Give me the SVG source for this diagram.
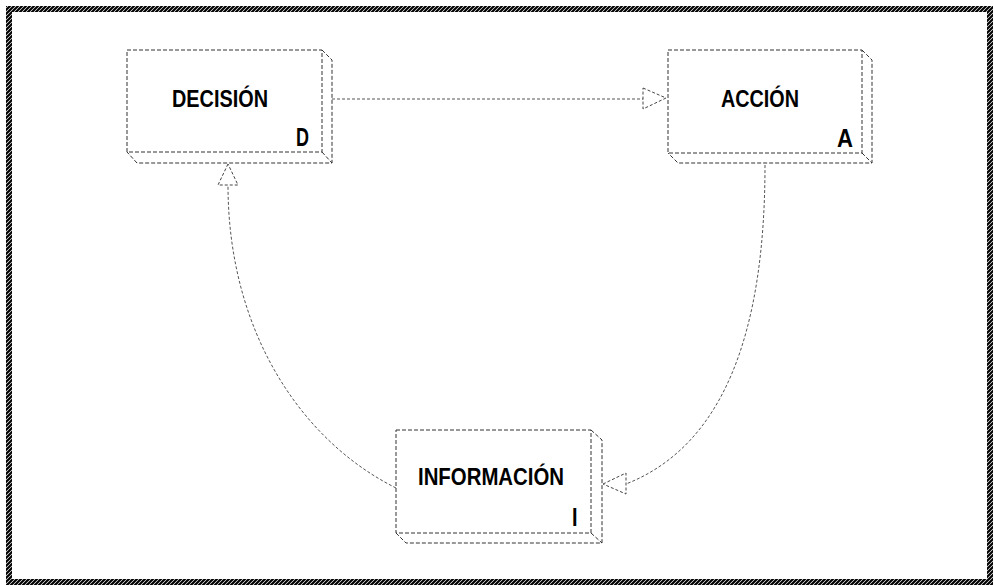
<svg xmlns="http://www.w3.org/2000/svg" width="994" height="585" viewBox="0 0 994 585">
  <style>
    .box { fill: none; stroke: #333; stroke-width: 1; stroke-dasharray: 4 2; }
    .conn { fill: none; stroke: #555; stroke-width: 1; stroke-dasharray: 3 2; }
    .head { fill: #fff; stroke: #444; stroke-width: 1; stroke-dasharray: 3 2; }
    .lbl { font-family: "Liberation Sans", Arial, sans-serif; font-weight: bold; font-size: 23px; fill: #000; }
    .corner { font-size: 25px; }
  </style>
  <defs>
    <pattern id="hatch" patternUnits="userSpaceOnUse" width="4" height="4">
      <rect width="4" height="4" fill="#fff"/>
      <path d="M-1,1 L1,-1 M0,4 L4,0 M3,5 L5,3" stroke="#000" stroke-width="2.2"/>
    </pattern>
  </defs>
  <rect width="994" height="585" fill="#fff"/>
  <rect x="9" y="9" width="981" height="573" fill="none" stroke="url(#hatch)" stroke-width="6"/>

  <g id="connectors">
    <line class="conn" x1="332" y1="99" x2="643" y2="99"/>
    <polygon class="head" points="643,88 666,98 643,109"/>
    <path class="conn" d="M765,165 C765,330 725,445 626,484"/>
    <polygon class="head" points="603,484 626,473 626,494"/>
    <path class="conn" d="M396,488 C300,440 228,330 228,185"/>
    <polygon class="head" points="228,164 218,185 238,185"/>
  </g>

  <g id="decision">
    <rect class="box" x="127" y="50" width="195" height="102"/>
    <path class="box" d="M322,50 L332,60 L332,163 L137,163 L127,152 M322,152 L332,163"/>
    <text class="lbl" x="172" y="107" textLength="96" lengthAdjust="spacingAndGlyphs">DECISIÓN</text>
    <text class="lbl corner" x="296" y="146" textLength="13" lengthAdjust="spacingAndGlyphs">D</text>
  </g>

  <g id="accion">
    <rect class="box" x="668" y="50" width="194" height="103"/>
    <path class="box" d="M862,50 L872,60 L872,163 L678,163 L668,153 M862,153 L872,163"/>
    <text class="lbl" x="721" y="107" textLength="78" lengthAdjust="spacingAndGlyphs">ACCIÓN</text>
    <text class="lbl corner" x="837" y="147" textLength="16" lengthAdjust="spacingAndGlyphs">A</text>
  </g>

  <g id="informacion">
    <rect class="box" x="396" y="430" width="195" height="103"/>
    <path class="box" d="M591,430 L602,440 L602,543 L406,543 L396,533 M591,533 L602,543"/>
    <text class="lbl" x="418" y="485" textLength="146" lengthAdjust="spacingAndGlyphs">INFORMACIÓN</text>
    <text class="lbl corner" x="572" y="526" textLength="5.5" lengthAdjust="spacingAndGlyphs">I</text>
  </g>
</svg>
